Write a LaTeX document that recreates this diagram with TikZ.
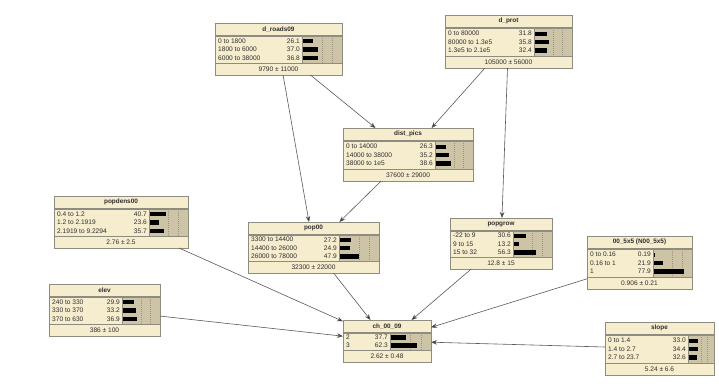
\documentclass[tikz,border=0pt]{standalone}
\usepackage{fontspec}
\setmainfont{Liberation Sans}
\usetikzlibrary{arrows.meta}
\definecolor{cream}{HTML}{F6ECCE}
\definecolor{barbg}{HTML}{CDC4A8}
\definecolor{framec}{HTML}{8E8C80}
\definecolor{gridc}{HTML}{9A9382}
\definecolor{txt}{HTML}{2E2E2E}
\definecolor{edgec}{HTML}{5A5A5A}
\tikzset{
  bnframe/.style={rectangle, fill=cream, draw=framec, line width=0.6pt, inner sep=0pt, outer sep=0pt},
  sepline/.style={draw=framec, line width=0.5pt},
  gridline/.style={draw=gridc, line width=0.4pt, dash pattern=on 1pt off 1pt},
  celltext/.style={inner sep=0pt, text=txt, font=\fontsize{6.6}{7.5}\selectfont},
  titletext/.style={inner sep=0pt, text=txt, font=\fontsize{6.4}{7.5}\selectfont\bfseries},
  edge/.style={draw=edgec, line width=0.6pt, -{Stealth[length=6pt,width=4.6pt,fill=black]}},
}
% #1 name, #2 left, #3 top, #4 right, #5 bottom, #6 bar start, #7 title, #8 rows, #9 mean
\newcommand\bnbox[9]{%
  \pgfmathsetmacro\bw{#4-#2}%
  \pgfmathsetmacro\bh{#5-#3}%
  \pgfmathsetmacro\bb{#6-#2}%
  \node[bnframe, minimum width=\bw pt, minimum height=\bh pt, anchor=north west] (#1) at (#2,-#3) {};
  \begin{scope}[shift={(#2,-#3)}]
    \fill[barbg] (\bb,-13) rectangle (\bw,{-\bh+12});
    \foreach \f in {0.5,0.75}{\draw[gridline] ({\bb+\f*(\bw-\bb)},-13) -- ({\bb+\f*(\bw-\bb)},{-\bh+12});}
    \draw[sepline] (0,-13) -- (\bw,-13) (0,-12) -- (\bw,-12) (0,{-\bh+12}) -- (\bw,{-\bh+12}) (\bb,-13) -- (\bb,{-\bh+12});
    \node[titletext] at ({\bw/2},-6.3) {#7};
    \foreach[count=\n] \a in {#8}{\xdef\nrows{\n}}
    \foreach[count=\i] \lab/\val in {#8}{
      \pgfmathsetmacro\yy{-(13+(\bh-25-\nrows*8.3)/2+8.3*(\i-0.5))}
      \node[celltext, anchor=west] at (3,\yy) {\lab};
      \node[celltext, anchor=east] at ({\bb-2},\yy) {\val};
      \fill[black] ({\bb+1},{\yy-2.2}) rectangle ({\bb+1+\val*(\bw-\bb)/100},{\yy+2.2});
    }
    \node[celltext] at ({\bw/2},{-\bh+6}) {#9};
    \draw[draw=framec, line width=0.6pt] (0,0) rectangle (\bw,-\bh);
  \end{scope}
}
\begin{document}
\begin{tikzpicture}[x=1pt,y=1pt]
\fill[white] (0,0) rectangle (719,-383);
\useasboundingbox (0,0) rectangle (719,-383);

\bnbox{droads}{215}{23}{342}{75}{302}{d\_roads09}{0 to 1800/26.1, 1800 to 6000/37.0, 6000 to 38000/36.8}{9790 ± 11000}
\bnbox{dprot}{445}{15}{572}{68}{534}{d\_prot}{0 to 80000/31.8, 80000 to 1.3e5/35.8, 1.3e5 to 2.1e5/32.4}{105000 ± 56000}
\bnbox{distpics}{343}{128}{473}{181}{435}{dist\_pics}{0 to 14000/26.3, 14000 to 38000/35.2, 38000 to 1e5/38.6}{37600 ± 29000}
\bnbox{popdens}{54}{196}{188}{248}{149}{popdens00}{0.4 to 1.2/40.7, 1.2 to 2.1919/23.6, 2.1919 to 9.2294/35.7}{2.76 ± 2.5}
\bnbox{pop}{248}{222}{379}{273}{339}{pop00}{3300 to 14400/27.2, 14400 to 26000/24.9, 26000 to 78000/47.9}{32300 ± 22000}
\bnbox{popgrow}{450}{218}{552}{269}{513}{popgrow}{-22 to 9/30.6, 9 to 15/13.2, 15 to 32/56.3}{12.8 ± 15}
\bnbox{nfive}{587}{236}{692}{289}{653}{00\_5x5 (N00\_5x5)}{0 to 0.16/0.19, 0.16 to 1/21.9, 1/77.9}{0.906 ± 0.21}
\bnbox{elev}{49}{284}{160}{336}{122}{elev}{240 to 330/29.9, 330 to 370/33.2, 370 to 630/36.9}{386 ± 100}
\bnbox{ch}{343}{320}{431}{362}{390}{ch\_00\_09}{2/37.7, 3/62.3}{2.62 ± 0.48}
\bnbox{slope}{605}{322}{714}{375}{688}{slope}{0 to 1.4/33.0, 1.4 to 2.7/34.4, 2.7 to 23.7/32.6}{5.24 ± 6.6}

\draw[edge] (droads) -- (pop);
\draw[edge] (droads) -- (distpics);
\draw[edge] (dprot) -- (distpics);
\draw[edge] (dprot) -- (popgrow);
\draw[edge] (distpics) -- (pop);
\draw[edge] (popdens) -- (ch);
\draw[edge] (pop) -- (ch);
\draw[edge] (popgrow) -- (ch);
\draw[edge] (nfive) -- (ch);
\draw[edge] (elev) -- (ch);
\draw[edge] (slope) -- (ch);
\end{tikzpicture}
\end{document}
